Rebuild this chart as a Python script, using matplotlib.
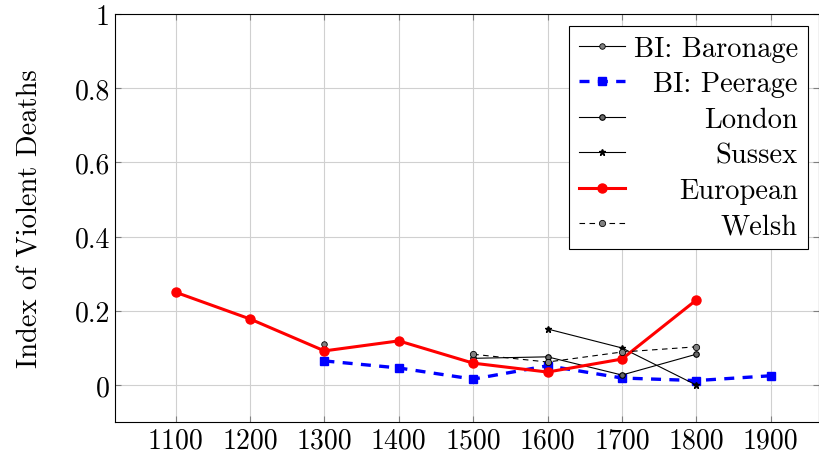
import matplotlib.pyplot as plt

plt.rcParams['font.family'] = 'serif'
plt.rcParams['font.serif'] = ['cmr10', 'DejaVu Serif']
plt.rcParams['mathtext.fontset'] = 'cm'
plt.rcParams['axes.formatter.use_mathtext'] = True

years_baronage = [1300]
baronage = [0.111]

years_peerage = [1300, 1400, 1500, 1600, 1700, 1800, 1900]
peerage = [0.065, 0.046, 0.016, 0.052, 0.019, 0.012, 0.025]

years_london = [1500, 1600, 1700, 1800]
london = [0.072, 0.076, 0.027, 0.083]

years_sussex = [1600, 1700, 1800]
sussex = [0.151, 0.100, 0.0]

years_european = [1100, 1200, 1300, 1400, 1500, 1600, 1700, 1800]
european = [0.250, 0.178, 0.092, 0.119, 0.059, 0.035, 0.070, 0.229]

years_welsh = [1500, 1600, 1700, 1800]
welsh = [0.083, 0.062, 0.089, 0.103]

xticks = [1100, 1200, 1300, 1400, 1500, 1600, 1700, 1800, 1900]
yticks = [0, 0.2, 0.4, 0.6, 0.8, 1]
ytick_labels = ['0', '0.2', '0.4', '0.6', '0.8', '1']

fig = plt.figure(figsize=(8.19, 4.64), dpi=100)
ax = fig.add_axes([0.140, 0.088, 0.86, 0.880])

ax.plot(years_baronage, baronage, color='black', lw=0.8, marker='o', ms=4,
        mfc='gray', mec='black', mew=0.6, label='BI: Baronage')
ax.plot(years_peerage, peerage, color='blue', lw=2.4, ls=(0, (3, 2.5)), marker='s', ms=5.5,
        mfc='blue', mec='blue', label='BI: Peerage')
ax.plot(years_london, london, color='black', lw=0.8, marker='o', ms=4,
        mfc='dimgray', mec='black', mew=0.8, label='London')
ax.plot(years_sussex, sussex, color='black', lw=0.8, marker='*', ms=5,
        mfc='black', mec='black', label='Sussex')
ax.plot(years_european, european, color='red', lw=2.2, marker='o', ms=6.5,
        mfc='red', mec='red', label='European')
ax.plot(years_welsh, welsh, color='black', lw=0.8, ls=(0, (5, 4)), marker='o', ms=4.5,
        mfc='gray', mec='black', mew=0.6, label='Welsh')

ax.set_xlim(1018, 1965)
ax.set_ylim(-0.1, 1)
ax.set_xticks(xticks)
ax.set_xticklabels([str(x) for x in xticks])
ax.set_yticks(yticks)
ax.set_yticklabels(ytick_labels)
ax.tick_params(labelsize=20, direction='in', length=4, color='gray', top=True, right=True)
ax.grid(True, color='#d0d0d0', lw=0.8)
ax.set_axisbelow(True)
ax.set_ylabel('Index of Violent Deaths', fontsize=20.5, labelpad=22)
for s in ax.spines.values():
    s.set_linewidth(0.8)

leg = ax.legend(loc='upper right', fontsize=20.5, frameon=True, fancybox=False,
                edgecolor='black', framealpha=1, handlelength=1.6, borderpad=0.35,
                labelspacing=0.32, handletextpad=0.3, borderaxespad=0,
                bbox_to_anchor=(0.984, 0.971))
leg.get_frame().set_linewidth(0.8)

# right-align legend labels (pgfplots style)
fig.canvas.draw()
renderer = fig.canvas.get_renderer()
widths = [t.get_window_extent(renderer).width for t in leg.get_texts()]
shift = max(widths)
for t, w in zip(leg.get_texts(), widths):
    t.set_position((shift - w, 0))

plt.savefig('out.png', dpi=100)
plt.close()
